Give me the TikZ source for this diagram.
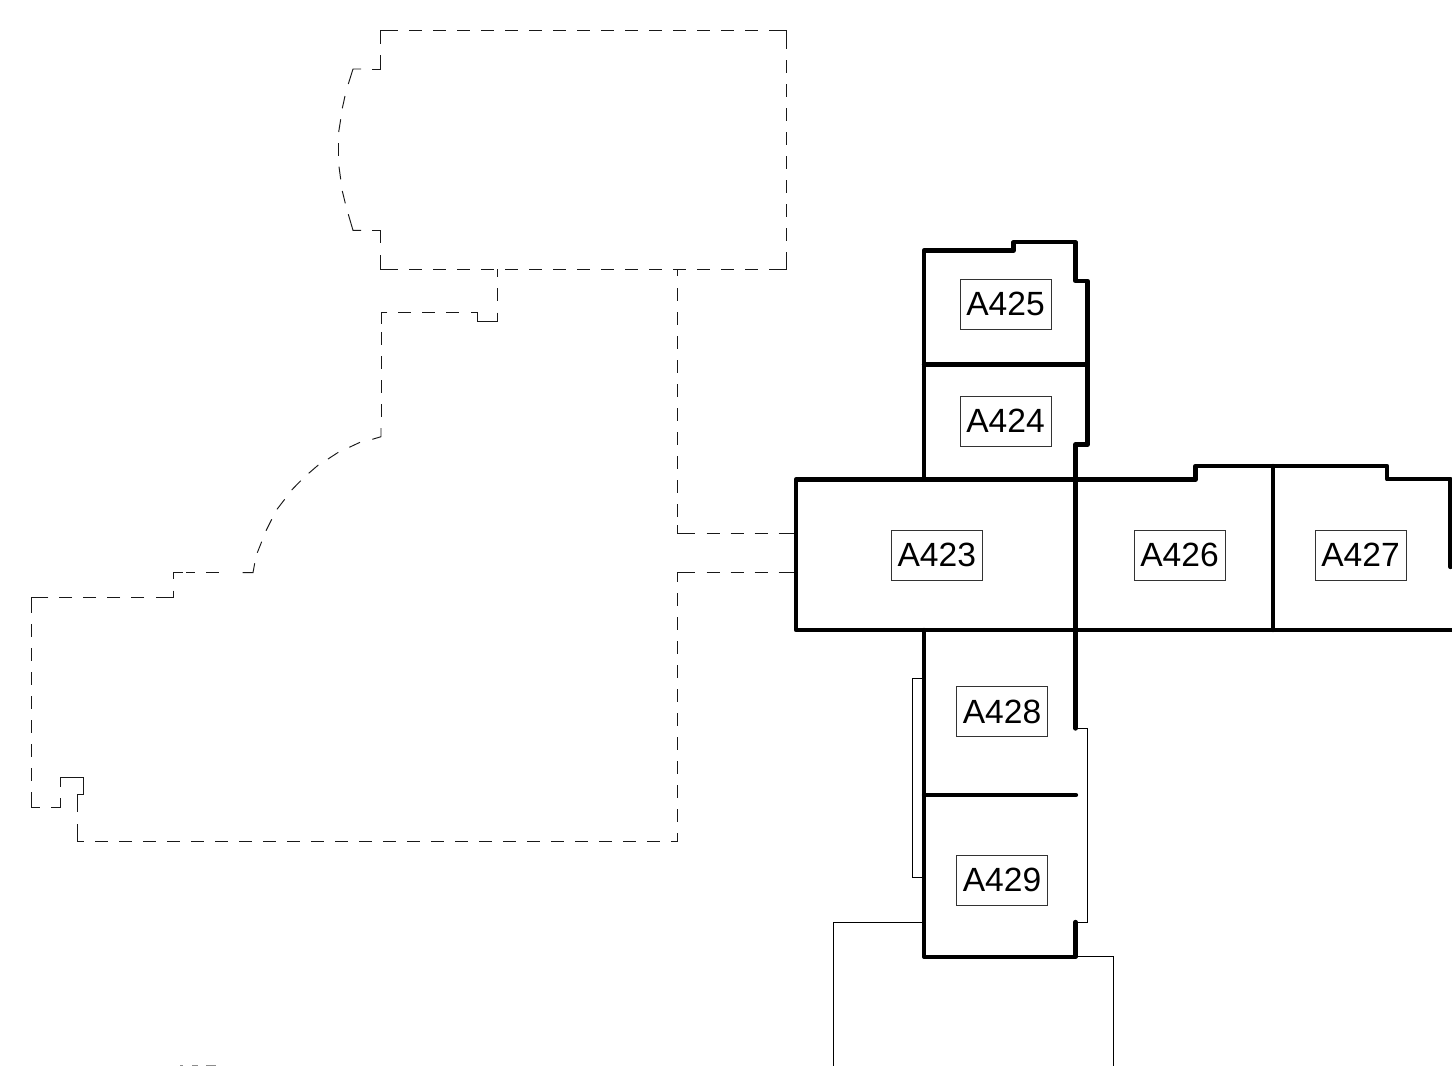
\documentclass[tikz,border=0pt]{standalone}
\usepackage{fontspec}
\setmainfont{Liberation Sans}
\tikzset{
  px/.style={x=1pt,y=-1pt},
  wall/.style={line width=4.3pt,line cap=round,line join=round,black},
  thin wall/.style={line width=1pt,black},
  dash wall/.style={line width=0.95pt,black!90,dash pattern=on 13pt off 11pt},
  solid seg/.style={line width=0.95pt,black!90,line join=miter},
  sliver/.style={fill=black!45,draw=none},
  room/.style={draw=black!80,line width=1pt,fill=white,minimum width=91pt,minimum height=50pt,inner sep=0pt,font=\fontsize{33.6}{36}\selectfont},
}
\begin{document}
\begin{tikzpicture}[px]
\useasboundingbox (0,0) rectangle (1452,1066);
% upper dashed outline
\draw[dash wall] (385,30) -- (782,30);
\draw[dash wall] (385,269) -- (782,269);
\draw[dash wall] (786,60) -- (786,252);
\draw[solid seg] (385,30) -- (380,30) -- (380,44);
\draw[solid seg] (782,30) -- (786,30) -- (786,49);
\draw[solid seg] (769,269) -- (786,269) -- (786,252);
\draw[solid seg] (385,269) -- (380,269) -- (380,255);
\draw[solid seg] (380,55) -- (380,69) -- (372,69);
\draw[solid seg] (361,69) -- (353,69) -- (348.3,84);
\draw[solid seg] (345,96) -- (342.3,108.3);
\draw[solid seg] (340.7,119.3) -- (338.7,132);
\draw[solid seg] (338.3,143.3) -- (338.3,156);
\draw[solid seg] (339,166.7) -- (340.7,179.3);
\draw[solid seg] (342.3,191) -- (345.3,203.3);
\draw[solid seg] (348.3,214.3) -- (353,230.3) -- (361,230.3);
\draw[solid seg] (372,230.3) -- (380,230.3) -- (380,243);
% link to the lower outline
\draw[solid seg] (497,269) -- (497,277.3);
\draw[solid seg] (497,288) -- (497,301);
\draw[solid seg] (497,312.7) -- (497,321.3) -- (477.3,321.3) -- (477.3,312.7) -- (470.7,312.7);
\draw[dash wall] (398.3,312.7) -- (459.3,312.7);
\draw[solid seg] (387.3,312.7) -- (381,312.7) -- (381,324);
\draw[dash wall] (381,332.3) -- (381,428);
\draw[solid seg] (381,428) -- (381,436.7) -- (372.3,439.3);
% arc
\draw[solid seg] (360,442.3) -- (349.3,447.3);
\draw[solid seg] (338.3,452.3) -- (328,459);
\draw[solid seg] (318.3,465) -- (308.7,473.3);
\draw[solid seg] (300.7,480.7) -- (291.7,490);
\draw[solid seg] (284.7,499.3) -- (277,509.3);
\draw[solid seg] (271.7,519.3) -- (266,530.7);
\draw[solid seg] (261.7,541.7) -- (257.3,552.7);
\draw[solid seg] (254.7,563.3) -- (253,572.7) -- (242.7,572.7);
\draw[dash wall] (218.7,572.7) -- (186,572.7);
\draw[solid seg] (182.7,572.7) -- (173.3,572.7) -- (173.3,579.3);
\draw[solid seg] (173.3,590.7) -- (173.3,597.7) -- (155.7,597.7);
\draw[dash wall] (144,597.7) -- (48,597.7);
\draw[solid seg] (48.3,597.7) -- (31,597.7) -- (31,612.7);
\draw[dash wall] (31,624) -- (31,781);
\draw[solid seg] (31,792.3) -- (31,807.3) -- (39.7,807.3);
\draw[solid seg] (51.3,807.3) -- (60.7,807.3) -- (60.7,798.3);
\draw[solid seg] (60.7,786.7) -- (60.7,777.3) -- (83.7,777.3) -- (83.7,794) -- (77.3,794) -- (77.3,811.7);
\draw[solid seg] (77.3,824) -- (77.3,841.7) -- (84,841.7);
\draw[dash wall] (95,841.7) -- (671,841.7);
\draw[solid seg] (671.3,841.7) -- (677.7,841.7) -- (677.7,833.3);
\draw[dash wall] (677.7,593) -- (677.7,833);
\draw[solid seg] (677.7,581.7) -- (677.7,572.7) -- (694.7,572.7);
\draw[dash wall] (706.7,572.7) -- (778.7,572.7);
\draw[solid seg] (778.7,572.7) -- (795,572.7);
% corridor upper side
\draw[solid seg] (677.7,269) -- (677.7,276);
\draw[dash wall] (677.7,288) -- (677.7,525);
\draw[solid seg] (677.7,525) -- (677.7,533.7) -- (694.7,533.7);
\draw[dash wall] (706.7,533.7) -- (778.7,533.7);
\draw[solid seg] (778.7,533.7) -- (795,533.7);
% thin lines
\draw[thin wall] (924,678) -- (912.3,678) -- (912.3,877.7) -- (924,877.7);
\draw[thin wall] (1076,728.5) -- (1087.3,728.5) -- (1087.3,922.3) -- (1076,922.3);
\draw[thin wall] (924,922.3) -- (833.7,922.3) -- (833.7,1066);
\draw[thin wall] (1076,956.7) -- (1113.3,956.7) -- (1113.3,1066);
% thick walls
\draw[wall] (924,479.5) -- (924,250.5) -- (1013.5,250.5) -- (1013.5,242.3) -- (1075.5,242.3) -- (1075.5,281) -- (1087.5,281) -- (1087.5,444.5) -- (1075.5,444.5) -- (1075.5,728.5);
\draw[wall] (924,364.5) -- (1087.5,364.5);
\draw[wall] (1450.5,567) -- (1450.5,479.3) -- (1387,479.3) -- (1387,466) -- (1195.5,466) -- (1195.5,479.5) -- (796,479.5) -- (796,630) -- (1452,630);
\draw[wall] (1272.8,466) -- (1272.8,630);
\draw[wall] (924,630) -- (924,956.7) -- (1075.5,956.7) -- (1075.5,922);
\draw[wall] (924,795) -- (1076,795);
% room labels
\node[room] (a425) at (1005.5,304.3) {A425};
\node[room] (a424) at (1005.5,421) {A424};
\node[room] (a423) at (936.8,555.2) {A423};
\node[room] (a426) at (1179.5,555.2) {A426};
\node[room] (a427) at (1360.5,555.2) {A427};
\node[room] (a428) at (1002,711.5) {A428};
\node[room] (a429) at (1002,880) {A429};
% cropped remains at the bottom edge
\fill[sliver] (180,1065) rectangle (183,1066);
\fill[sliver] (192,1065) rectangle (198,1066);
\fill[sliver] (206,1065) rectangle (216,1066);
\end{tikzpicture}
\end{document}
